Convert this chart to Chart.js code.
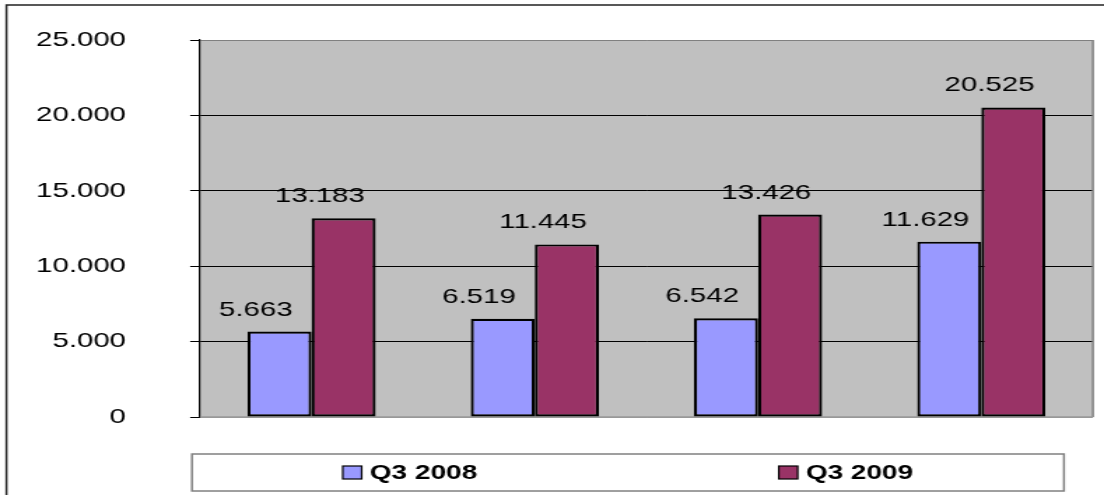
<!DOCTYPE html>
<html>
<head>
<meta charset="utf-8">
<script src="https://cdn.jsdelivr.net/npm/chart.js@4.4.0/dist/chart.umd.min.js"></script>
<style>
  html, body { margin: 0; padding: 0; background: #fff; overflow: hidden; }
  /* the original picture is stretched sideways, so we draw narrow and stretch it */
  #wrap { position: absolute; left: 0; top: 0; width: 789px; height: 495px;
          transform: scaleX(1.3992); transform-origin: 0 0; }
</style>
</head>
<body>
<div id="wrap"><canvas id="myChart"></canvas></div>
<script>
const categories = ['1', '2', '3', '4'];
const seriesNames = ['Q3 2008', 'Q3 2009'];
const q3_2008 = [5663, 6519, 6542, 11629];
const q3_2009 = [13183, 11445, 13426, 20525];
const yMin = 0;
const yMax = 25000;
const yStep = 5000;

const FONT = "'Liberation Sans', Arial, sans-serif";
Chart.defaults.font.family = FONT;

function fmt(v) {
  return String(v).replace(/\B(?=(\d{3})+(?!\d))/g, '.');
}

const frame = {
  id: 'frame',
  beforeDraw(chart) {
    const c = chart.ctx, a = chart.chartArea;
    c.save();
    c.fillStyle = '#fff';
    c.fillRect(0, 0, chart.width, chart.height);
    // outer border (left + top visible)
    c.strokeStyle = '#222';
    c.lineWidth = 1.5;
    c.beginPath();
    c.moveTo(4.6, chart.height + 5);
    c.lineTo(4.6, 5);
    c.lineTo(chart.width + 5, 5);
    c.stroke();
    // plot background
    c.fillStyle = '#C0C0C0';
    c.fillRect(a.left, a.top, a.right - a.left, a.bottom - a.top);
    c.restore();
  },
  beforeDatasetsDraw(chart) {
    const c = chart.ctx, a = chart.chartArea;
    c.save();
    c.strokeStyle = '#808080';
    c.lineWidth = 1.5;
    c.beginPath();
    c.moveTo(a.right, a.top);
    c.lineTo(a.right, a.bottom);
    c.stroke();
    c.strokeStyle = '#999';
    c.beginPath();
    c.moveTo(a.left, a.bottom);
    c.lineTo(a.right, a.bottom);
    c.stroke();
    c.restore();
  }
};

const valueLabels = {
  id: 'valueLabels',
  afterDatasetsDraw(chart) {
    const c = chart.ctx;
    c.save();
    c.font = '21px ' + FONT;
    c.fillStyle = '#000';
    c.textAlign = 'center';
    c.textBaseline = 'alphabetic';
    chart.data.datasets.forEach((ds, i) => {
      chart.getDatasetMeta(i).data.forEach((bar, j) => {
        c.fillText(fmt(ds.data[j]), bar.x - 17, bar.y - 16);
      });
    });
    c.restore();
  }
};

const boxLegend = {
  id: 'boxLegend',
  afterDraw(chart) {
    const c = chart.ctx;
    const left = 137.2, right = 760.4, top = 454, bottom = 491;
    c.save();
    c.strokeStyle = '#808080';
    c.lineWidth = 1.5;
    c.strokeRect(left, top, right - left, bottom - top);
    c.font = 'bold 20px ' + FONT;
    c.textBaseline = 'alphabetic';
    c.textAlign = 'left';
    const half = (right - left) / chart.data.datasets.length;
    chart.data.datasets.forEach((ds, i) => {
      const tw = c.measureText(ds.label).width;
      const total = 13.5 + 5.8 + tw;
      const x0 = left + (i + 0.5) * half - total / 2;
      c.fillStyle = ds.backgroundColor;
      c.fillRect(x0, 466, 13.5, 13);
      c.strokeStyle = '#000';
      c.lineWidth = 1.2;
      c.strokeRect(x0, 466, 13.5, 13);
      c.fillStyle = '#000';
      c.fillText(ds.label, x0 + 13.5 + 5.8, 479);
    });
    c.restore();
  }
};

const ctx = document.getElementById('myChart').getContext('2d');
const myChart = new Chart(ctx, {
  type: 'bar',
  data: {
    labels: categories,
    datasets: [{
      label: seriesNames[0],
      data: q3_2008,
      backgroundColor: '#9999FF',
      borderColor: '#000',
      borderWidth: 2.2,
      borderSkipped: false
    }, {
      label: seriesNames[1],
      data: q3_2009,
      backgroundColor: '#993366',
      borderColor: '#000',
      borderWidth: 2.2,
      borderSkipped: false
    }]
  },
  options: {
    responsive: true,
    maintainAspectRatio: false,
    animation: false,
    datasets: { bar: { categoryPercentage: 0.574, barPercentage: 1.0 } },
    layout: { padding: { left: 0, right: 7.9, top: 40, bottom: 78 } },
    plugins: { legend: { display: false }, tooltip: { enabled: false } },
    scales: {
      x: { display: false },
      y: {
        min: yMin,
        max: yMax,
        afterFit(scale) {
          scale.width = 142.9;
          scale.paddingTop = 0;
          scale.paddingBottom = 0;
        },
        ticks: {
          stepSize: yStep,
          padding: 45.9,
          color: '#000',
          font: { size: 21 },
          callback: v => fmt(v)
        },
        grid: {
          color: c => c.tick && c.tick.value === yMax ? '#808080' : (c.tick && c.tick.value === yMin ? '#999' : '#000'),
          tickColor: '#000',
          tickLength: 7,
          lineWidth: 1
        },
        border: { color: '#000', width: 1.2 }
      }
    }
  },
  plugins: [frame, valueLabels, boxLegend]
});
</script>
</body>
</html>
